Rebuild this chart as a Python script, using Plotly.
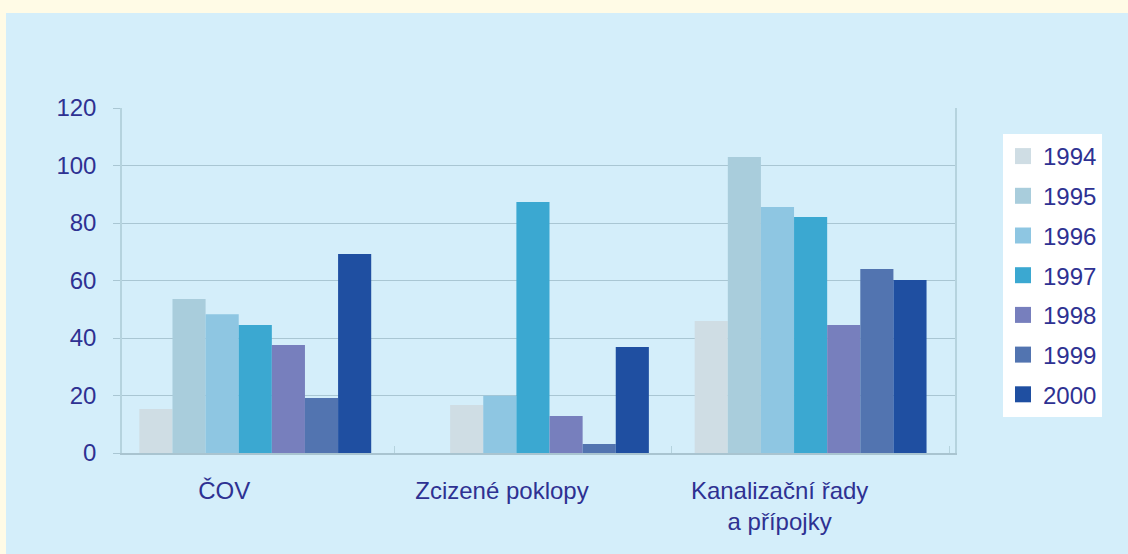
import plotly.graph_objects as go

# ---- data ----
categories = ["ČOV", "Zcizené poklopy", "Kanalizační řady<br>a přípojky"]
years = ["1994", "1995", "1996", "1997", "1998", "1999", "2000"]
v1994 = [15.3, 0.0, 45.9]
v1995 = [53.6, 16.7, 103.0]
v1996 = [48.3, 19.9, 85.6]
v1997 = [44.5, 87.3, 82.1]
v1998 = [37.6, 12.9, 44.5]
v1999 = [19.1, 3.1, 64.0]
v2000 = [69.2, 36.9, 60.2]
series = [v1994, v1995, v1996, v1997, v1998, v1999, v2000]

# ---- style ----
colors = ["#CFDDE4", "#A9CDDC", "#8EC6E2", "#3BA8D1", "#777FBD", "#5274B0", "#1F4FA1"]
# in the original the 1995 bar of the 2nd group is drawn in the 1994 tone
point_colors = [[c] * 3 for c in colors]
point_colors[1][1] = colors[0]

TEXT = "#2E3192"
GRID = "#A9C6D3"
AXIS = "#A9C4D0"
FRAME = "#B5D3DE"
PANEL = "#D4EEFA"
CREAM = "#FFFBE6"
FONT = "Liberation Sans, Arial, sans-serif"

W, H = 1128, 554
L, R, T, B = 122, 173, 108, 101
PW, PH = W - L - R, H - T - B


def px_x(px):
    return (px - L) / PW


def px_y(py):
    return 1 - (py - T) / PH


fig = go.Figure()
for yr, vals, pc in zip(years, series, point_colors):
    fig.add_trace(go.Bar(
        name=yr, x=categories, y=vals,
        marker=dict(color=pc, line=dict(width=0)),
        legendgroup=yr, showlegend=False,
    ))
# legend entries (larger square swatches, as in the original)
for yr, c in zip(years, colors):
    fig.add_trace(go.Scatter(
        name=yr, x=[None], y=[None], mode="markers",
        marker=dict(symbol="square", size=18, color=c, line=dict(width=0)),
        legendgroup=yr, showlegend=True, hoverinfo="skip",
    ))

fig.update_layout(
    width=W, height=H,
    margin=dict(l=L, r=R, t=T, b=B),
    paper_bgcolor=PANEL, plot_bgcolor=PANEL,
    font=dict(family=FONT, size=24, color=TEXT),
    barmode="group", bargap=0.165, bargroupgap=0,
    showlegend=True,
    legend=dict(
        xref="container", yref="container",
        x=1003 / W, y=1 - 134 / H, xanchor="left", yanchor="top",
        bgcolor="white", borderwidth=0, maxheight=450,
        font=dict(family=FONT, size=24, color=TEXT),
        traceorder="grouped", tracegroupgap=5.5,
    ),
    shapes=[
        dict(type="rect", xref="paper", yref="paper", layer="below",
             x0=px_x(0), x1=px_x(W), y0=px_y(13), y1=px_y(0),
             fillcolor=CREAM, line=dict(width=0)),
        dict(type="rect", xref="paper", yref="paper", layer="below",
             x0=px_x(0), x1=px_x(6), y0=px_y(H), y1=px_y(0),
             fillcolor=CREAM, line=dict(width=0)),
    ],
)

fig.update_xaxes(
    type="category", range=[-0.48, 2.52],
    showline=True, linecolor=AXIS, linewidth=2,
    ticks="inside", tickson="boundaries", ticklen=7, tickcolor=FRAME, tickwidth=1,
    tickfont=dict(family=FONT, size=24, color=TEXT),
    ticklabelshift=-31, ticklabelstandoff=15,
    showgrid=False, zeroline=False,
)
fig.update_yaxes(
    range=[0, 120], dtick=20,
    showgrid=True, gridcolor=GRID, gridwidth=1.3,
    showline=True, linecolor=FRAME, linewidth=1.5, mirror=True,
    ticks="outside", ticklen=7, tickcolor=GRID, tickwidth=1.3,
    tickfont=dict(family=FONT, size=24, color=TEXT),
    ticklabelstandoff=12,
    zeroline=False,
)

fig.write_html(
    "out.html",
    config={"displayModeBar": False},
    post_script="document.body.style.margin='0px';document.body.style.overflow='hidden';",
)
